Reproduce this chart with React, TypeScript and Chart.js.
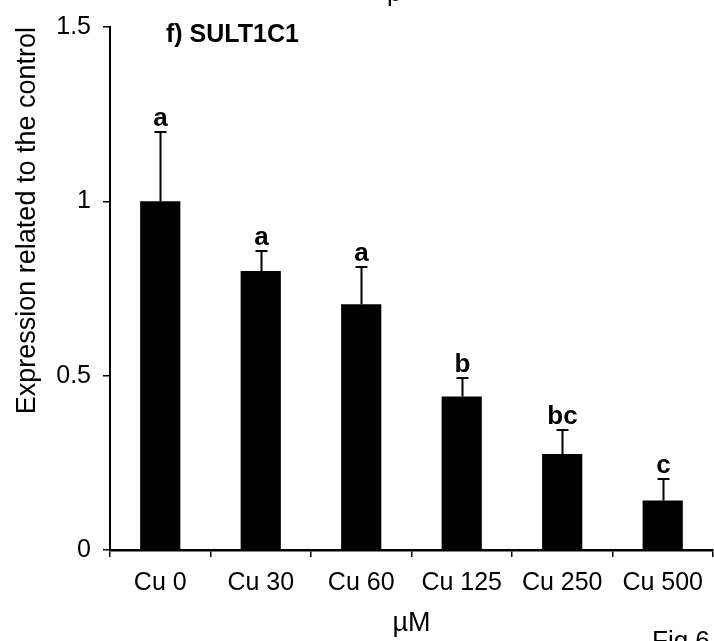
import React, { useEffect, useRef } from "react";
import { Chart, registerables } from "chart.js";

Chart.register(...registerables);

const categories = ["Cu 0", "Cu 30", "Cu 60", "Cu 125", "Cu 250", "Cu 500"];
const means = [1.0, 0.8, 0.705, 0.44, 0.275, 0.142];
const errors = [0.2, 0.058, 0.108, 0.053, 0.068, 0.062];
const letters = ["a", "a", "a", "b", "bc", "c"];
const yTickValues = [0, 0.5, 1, 1.5];
const yTickLabels = ["0", "0.5", "1", "1.5"];
const panelTitle = "f) SULT1C1";
const yAxisTitle = "Expression related to the control";
const xAxisTitle = "µM";
const figLabel = "Fig 6";
const topFragment = "p";

const FONT = "'Liberation Sans', Arial, Helvetica, sans-serif";

const annotationsPlugin = {
  id: "annotations",
  afterDatasetsDraw(chart: any) {
    const { ctx, scales } = chart;
    const y = scales.y;
    const meta = chart.getDatasetMeta(0);
    ctx.save();
    ctx.strokeStyle = "#000";
    ctx.fillStyle = "#000";
    ctx.lineWidth = 2;
    meta.data.forEach((bar: any, i: number) => {
      const x = Math.round(bar.x) + 0.5;
      const yBar = y.getPixelForValue(means[i]);
      const yTop = Math.round(y.getPixelForValue(means[i] + errors[i]));
      ctx.beginPath();
      ctx.moveTo(x, yBar);
      ctx.lineTo(x, yTop);
      ctx.moveTo(x - 6, yTop);
      ctx.lineTo(x + 6, yTop);
      ctx.stroke();
      ctx.font = `bold 26px ${FONT}`;
      ctx.textAlign = "center";
      ctx.textBaseline = "alphabetic";
      ctx.fillText(letters[i], x, yTop - 6);
    });
    // panel title
    ctx.font = `bold 25px ${FONT}`;
    ctx.textAlign = "left";
    ctx.textBaseline = "alphabetic";
    ctx.fillText(panelTitle, 166, 42);
    // cropped neighbouring texts
    ctx.font = `26px ${FONT}`;
    ctx.textBaseline = "top";
    ctx.fillText(figLabel, 652, 629);
    ctx.textBaseline = "alphabetic";
    ctx.fillText(topFragment, 387, 1);
    ctx.restore();
  },
};

export default function App() {
  const ref = useRef<HTMLCanvasElement | null>(null);

  useEffect(() => {
    if (!ref.current) return;
    const chart = new Chart(ref.current, {
      type: "bar",
      data: {
        labels: categories,
        datasets: [
          {
            data: means,
            backgroundColor: "#000",
            borderWidth: 0,
            categoryPercentage: 1,
            barPercentage: 0.4,
          },
        ],
      },
      options: {
        animation: false,
        responsive: false,
        devicePixelRatio: 1,
        layout: { padding: { top: 25, left: 0, right: 0, bottom: 0 } },
        plugins: {
          legend: { display: false },
          tooltip: { enabled: false },
          title: { display: false },
        },
        scales: {
          x: {
            offset: true,
            grid: {
              offset: true,
              drawOnChartArea: false,
              drawTicks: true,
              tickLength: 7,
              color: "#000",
              lineWidth: 1.5,
            },
            border: { display: true, color: "#000", width: 2.5 },
            ticks: {
              color: "#000",
              font: { family: FONT, size: 25 },
              padding: 11,
              maxRotation: 0,
              autoSkip: false,
            },
            title: {
              display: true,
              text: xAxisTitle,
              color: "#000",
              font: { family: FONT, size: 27 },
              padding: { top: 0, bottom: 1 },
            },
            afterFit: (scale: any) => {
              scale.height = 91;
            },
          },
          y: {
            min: 0,
            max: 1.5,
            grid: {
              drawOnChartArea: false,
              drawTicks: true,
              tickLength: 7,
              color: "#000",
              lineWidth: 1.5,
            },
            border: { display: true, color: "#000", width: 2 },
            afterBuildTicks: (scale: any) => {
              scale.ticks = yTickValues.map((v) => ({ value: v }));
            },
            ticks: {
              color: "#000",
              font: { family: FONT, size: 25 },
              padding: 12,
              callback: (value: any) => {
                const idx = yTickValues.indexOf(Number(value));
                return idx >= 0 ? yTickLabels[idx] : "";
              },
            },
            title: {
              display: true,
              text: yAxisTitle,
              align: "end",
              color: "#000",
              font: { family: FONT, size: 27 },
              padding: { top: 11, bottom: 0 },
            },
            afterFit: (scale: any) => {
              scale.width = 110;
            },
          },
        },
      },
      plugins: [annotationsPlugin],
    });
    return () => chart.destroy();
  }, []);

  return (
    <div style={{ position: "absolute", left: 0, top: 0, width: 714, height: 641, background: "#fff" }}>
      <canvas ref={ref} width={714} height={641} style={{ display: "block", width: 714, height: 641 }} />
    </div>
  );
}
